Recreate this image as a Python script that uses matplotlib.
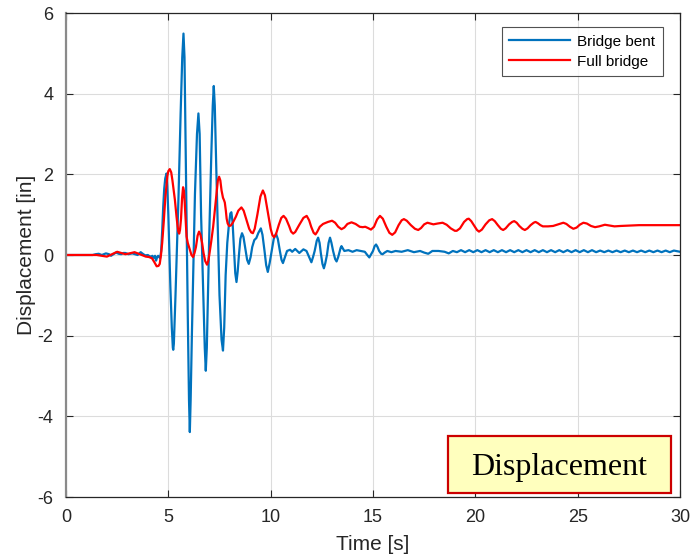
import matplotlib
matplotlib.use("Agg")
import matplotlib.pyplot as plt
from matplotlib.patches import Rectangle

# ---------------- data ----------------
full_t = [0, 1.5, 1.75, 2.0, 2.25, 2.5, 2.7, 2.9, 3.1, 3.35, 3.6, 3.9, 4.05, 4.2, 4.32,
          4.43, 4.52, 4.58, 4.64, 4.7, 4.78, 4.85, 4.95, 5.0, 5.07, 5.14, 5.2, 5.32,
          5.4, 5.45, 5.49, 5.53, 5.57, 5.62, 5.67, 5.72, 5.76, 5.8, 5.85, 5.89, 5.95,
          6.05, 6.13, 6.21, 6.28, 6.35, 6.43, 6.5, 6.57, 6.65, 6.72, 6.8, 6.89, 6.95,
          7.0, 7.1, 7.19, 7.28, 7.35, 7.42, 7.48, 7.54, 7.6, 7.67, 7.72, 7.76, 7.81,
          7.85, 7.9, 7.97, 8.05, 8.15, 8.3, 8.42, 8.57, 8.68, 8.8, 8.95, 9.05, 9.13,
          9.22, 9.35, 9.5, 9.62, 9.72, 9.85, 10.0, 10.08, 10.16, 10.25, 10.4, 10.52,
          10.63, 10.75, 10.9, 11.0, 11.1, 11.2, 11.4, 11.6, 11.76, 11.88, 11.98, 12.1,
          12.19, 12.28, 12.4, 12.56, 12.8, 13.0, 13.15, 13.3, 13.46, 13.6, 13.75,
          13.95, 14.15, 14.35, 14.5, 14.62, 14.75, 14.9, 15.05, 15.2, 15.34, 15.48,
          15.65, 15.8, 15.94, 16.08, 16.25, 16.4, 16.51, 16.65, 16.85, 17.05, 17.21,
          17.35, 17.5, 17.66, 17.8, 17.95, 18.15, 18.4, 18.6, 18.8, 19.0, 19.09,
          19.25, 19.45, 19.6, 19.68, 19.8, 19.95, 20.08, 20.18, 20.32, 20.5, 20.68,
          20.82, 20.95, 21.1, 21.25, 21.36, 21.48, 21.65, 21.8, 21.9, 22.02, 22.15,
          22.3, 22.42, 22.55, 22.7, 22.85, 22.94, 23.05, 23.18, 23.3, 23.55, 23.8,
          24.05, 24.3, 24.45, 24.62, 24.79, 24.95, 25.1, 25.28, 25.45, 25.65, 25.85,
          26.05, 26.33, 26.55, 26.8, 27.1, 27.5, 28.0, 28.5, 29.0, 29.5, 30]
full_v = [0, 0, -0.02, -0.04, 0.02, 0.08, 0.05, 0.02, 0.04, 0.07, 0.02, -0.04, -0.05,
          -0.08, -0.18, -0.28, -0.27, -0.22, 0.0, 0.3, 0.85, 1.4, 1.95, 2.08, 2.13,
          2.05, 1.85, 1.37, 0.95, 0.72, 0.58, 0.53, 0.62, 0.9, 1.4, 1.68, 1.6, 1.3,
          0.85, 0.46, 0.3, 0.13, 0.0, -0.05, 0.05, 0.2, 0.48, 0.58, 0.5, 0.3, 0.05,
          -0.15, -0.24, -0.15, 0.0, 0.35, 0.7, 1.15, 1.5, 1.85, 1.94, 1.85, 1.6, 1.42,
          1.36, 1.3, 1.1, 0.9, 0.78, 0.72, 0.73, 0.8, 0.95, 1.1, 1.18, 1.1, 0.9, 0.65,
          0.56, 0.54, 0.65, 1.0, 1.45, 1.6, 1.48, 1.1, 0.65, 0.5, 0.44, 0.5, 0.75,
          0.92, 0.97, 0.9, 0.72, 0.58, 0.53, 0.57, 0.75, 0.92, 0.97, 0.86, 0.7, 0.55,
          0.51, 0.58, 0.7, 0.77, 0.82, 0.85, 0.8, 0.7, 0.64, 0.68, 0.77,
          0.81, 0.77, 0.7, 0.69, 0.7, 0.67, 0.63, 0.7, 0.88, 0.97, 0.9,
          0.7, 0.55, 0.5, 0.56, 0.74, 0.86, 0.89, 0.85, 0.74, 0.65, 0.62,
          0.67, 0.76, 0.8, 0.78, 0.76, 0.78, 0.8, 0.75, 0.66, 0.6, 0.6,
          0.66, 0.82, 0.89, 0.9, 0.84, 0.72, 0.62, 0.58, 0.63, 0.76, 0.86,
          0.89, 0.84, 0.74, 0.65, 0.62, 0.66, 0.76, 0.82, 0.84, 0.8, 0.72,
          0.65, 0.62, 0.66, 0.74, 0.8, 0.82, 0.79, 0.74, 0.71, 0.71, 0.72,
          0.76, 0.8, 0.77, 0.7, 0.65, 0.68, 0.75, 0.8, 0.78, 0.72, 0.69,
          0.71, 0.75, 0.73, 0.71, 0.72, 0.73, 0.74, 0.74, 0.74, 0.74, 0.74]

bent_t = [0, 1.3, 1.45, 1.6, 1.75, 1.95, 2.1, 2.2, 2.32, 2.44, 2.58, 2.7, 2.8, 2.9,
          3.05, 3.24, 3.38, 3.5, 3.58, 3.65, 3.75, 3.87, 4.0, 4.08, 4.16, 4.22, 4.28,
          4.35, 4.4, 4.45, 4.5, 4.55, 4.6, 4.65, 4.7, 4.75, 4.8, 4.85, 4.91, 4.95,
          5.0, 5.05, 5.1, 5.17, 5.22, 5.24, 5.27, 5.35, 5.42, 5.5, 5.6, 5.68, 5.74,
          5.79, 5.85, 5.95, 6.01, 6.05, 6.09, 6.15, 6.3, 6.4, 6.47, 6.53, 6.6, 6.7,
          6.78, 6.83, 6.88, 7.0, 7.1, 7.17, 7.22, 7.27, 7.35, 7.5, 7.6, 7.67, 7.73,
          7.8, 7.88, 7.95, 8.03, 8.08, 8.14, 8.2, 8.27, 8.33, 8.39, 8.45, 8.52, 8.6,
          8.67, 8.75, 8.85, 8.93, 9.02, 9.1, 9.2, 9.3, 9.4, 9.52, 9.6, 9.7, 9.78,
          9.86, 9.95, 10.05, 10.15, 10.26, 10.35, 10.45, 10.53, 10.6, 10.7, 10.8,
          10.95, 11.05, 11.2, 11.4, 11.6, 11.75, 11.88, 11.99, 12.07, 12.15, 12.25,
          12.32, 12.39, 12.45, 12.53, 12.6, 12.67, 12.75, 12.83, 12.9, 12.97, 13.05,
          13.15, 13.22, 13.3, 13.35, 13.42, 13.46, 13.52, 13.6, 13.8, 14.0, 14.2,
          14.4, 14.6, 14.72, 14.82, 14.92, 15.0, 15.08, 15.15, 15.22, 15.3, 15.4,
          15.47, 15.57, 15.7, 15.9, 16.1, 16.4, 16.7, 17.0, 17.3, 17.5, 17.7, 17.9,
          18.2, 18.5, 18.7, 18.9, 19.1, 19.3, 19.5, 19.7, 19.9, 20.1, 20.3, 20.5,
          20.7, 20.9, 21.1, 21.3, 21.5, 21.7, 21.9, 22.1, 22.3, 22.5, 22.7, 22.9,
          23.1, 23.3, 23.5, 23.7, 23.9, 24.1, 24.3, 24.5, 24.7, 24.9, 25.1, 25.3,
          25.5, 25.7, 25.9, 26.1, 26.3, 26.5, 26.7, 26.9, 27.1, 27.3, 27.5, 27.7,
          27.9, 28.1, 28.3, 28.5, 28.7, 28.9, 29.1, 29.3, 29.5, 29.7, 30]
bent_v = [0, 0, 0.02, 0.03, 0.0, 0.04, 0.02, -0.02, 0.02, 0.06, 0.03, 0.02, 0.05, 0.05,
          0.02, 0.04, 0.02, 0.0, 0.04, 0.07, 0.03, -0.01, 0.0, -0.03, -0.04, -0.02,
          -0.07, -0.02, -0.14, -0.06, -0.02, -0.05, -0.08, 0.1, 0.6, 1.2, 1.65, 1.9,
          2.02, 1.7, 1.0, 0.1, -0.8, -1.8, -2.3, -2.35, -2.2, -1.0, 0.2, 1.5, 3.5, 4.9,
          5.49, 4.9, 2.5, -1.5, -3.6, -4.39, -3.6, -2.0, 1.5, 3.0, 3.51, 3.0, 1.0, -0.8,
          -2.3, -2.87, -2.3, 0.5, 2.5, 3.7, 4.19, 3.7, 2.0, -1.0, -2.1, -2.37, -1.8,
          -0.5, 0.3, 0.7, 1.03, 1.06, 0.8, 0.2, -0.45, -0.67, -0.4, 0.0, 0.4, 0.54,
          0.45, 0.2, -0.12, -0.22, -0.05, 0.2, 0.37, 0.42, 0.55, 0.66, 0.5, 0.1, -0.25,
          -0.42, -0.2, 0.1, 0.4, 0.53, 0.4, 0.1, -0.12, -0.2, -0.05, 0.1,
          0.13, 0.08, 0.15, 0.05, 0.14, 0.1, -0.05, -0.18, -0.05, 0.1, 0.35,
          0.43, 0.3, 0.05, -0.22, -0.33, -0.2, 0.0, 0.3, 0.43, 0.3, 0.1,
          -0.1, -0.16, -0.05, 0.05, 0.18, 0.22, 0.17, 0.1, 0.12, 0.08, 0.12,
          0.1, 0.08, 0.0, -0.06, 0.03, 0.1, 0.22, 0.26, 0.2, 0.1, 0.03,
          0.02, 0.06, 0.1, 0.07, 0.1, 0.08, 0.12, 0.07, 0.1, 0.06, 0.03, 0.1,
          0.1, 0.08, 0.04, 0.1, 0.07, 0.12, 0.07, 0.12, 0.07, 0.12, 0.07, 0.12,
          0.07, 0.12, 0.07, 0.12, 0.07, 0.12, 0.07, 0.12, 0.07, 0.12, 0.07, 0.12,
          0.07, 0.12, 0.07, 0.12, 0.07, 0.12, 0.07, 0.12, 0.07, 0.12, 0.07, 0.12,
          0.07, 0.12, 0.07, 0.11, 0.07, 0.11, 0.07, 0.11, 0.07, 0.11, 0.07, 0.11,
          0.07, 0.11, 0.07, 0.11, 0.07, 0.11, 0.07, 0.11, 0.07, 0.11, 0.08]

x_ticks = [0, 5, 10, 15, 20, 25, 30]
y_ticks = [-6, -4, -2, 0, 2, 4, 6]
series_labels = ["Bridge bent", "Full bridge"]

# ---------------- figure ----------------
plt.rcParams['font.family'] = ['Liberation Sans', 'DejaVu Sans']
plt.rcParams['axes.unicode_minus'] = False
fig = plt.figure(figsize=(6.91, 5.58), dpi=100)
ax = fig.add_axes([66 / 691, 1 - 497 / 558, 614 / 691, 484 / 558])

ax.plot(bent_t, bent_v, color='#0072BD', lw=1.6, label=series_labels[0],
        solid_joinstyle='round')
ax.plot(full_t, full_v, color='#FF0000', lw=1.6, label=series_labels[1],
        solid_joinstyle='round')

ax.set_xlim(0, 30)
ax.set_ylim(-6, 6)
ax.set_xticks(x_ticks)
ax.set_yticks(y_ticks)
ax.grid(True, color='#dcdcdc', lw=0.8)
ax.set_axisbelow(True)
ax.tick_params(direction='in', top=True, right=True, length=5, width=0.8,
               colors='#262626', labelsize=13)
ax.tick_params(axis='x', pad=9)
ax.tick_params(axis='y', pad=9)
for s in ax.spines.values():
    s.set_color('#262626')
    s.set_linewidth(0.9)
ax.spines['left'].set_color('#8a8a8a')
ax.spines['left'].set_linewidth(1.6)

ax.set_xlabel('Time [s]', fontsize=15, color='#262626', labelpad=6)
ax.set_ylabel('Displacement [in]', fontsize=15, color='#262626', labelpad=1)

leg = ax.legend(loc='upper right', bbox_to_anchor=(0.972, 0.971), fontsize=11,
                frameon=True, fancybox=False, handlelength=4.0, borderpad=0.5,
                labelspacing=0.4, handletextpad=0.45, borderaxespad=0)
leg.get_frame().set_edgecolor('#262626')
leg.get_frame().set_linewidth(0.8)

ax.add_patch(Rectangle((0.622, 0.008), 0.363, 0.118, transform=ax.transAxes,
                       facecolor='#FFFFBE', edgecolor='#CC0000', lw=1.6, zorder=5))
ax.text(0.8035, 0.06, 'Displacement', transform=ax.transAxes, ha='center',
        va='center', fontsize=23, family=['Liberation Serif', 'DejaVu Serif'],
        color='black', zorder=6)

fig.savefig('out.png', dpi=100)
